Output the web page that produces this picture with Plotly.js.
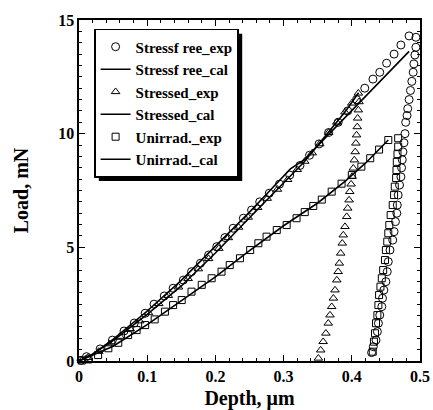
<!DOCTYPE html>
<html>
<head>
<meta charset="utf-8">
<script src="https://cdn.plot.ly/plotly-3.0.1.min.js"></script>
<style>html,body{margin:0;padding:0;background:#fff;}#chart{width:433px;height:410px;}</style>
</head>
<body>
<div id="chart"></div>
<script>
// ---- Data ----
const seriesNames = ["Stressf ree_exp", "Stressf ree_cal", "Stressed_exp", "Stressed_cal", "Unirrad._exp", "Unirrad._cal"];

const stressfreeExpX = [0.003,0.011,0.031,0.049,0.066,0.081,0.097,0.110,0.125,0.138,0.153,0.165,0.178,0.190,0.202,0.214,0.226,0.241,0.253,0.265,0.279,0.294,0.309,0.324,0.338,0.352,0.366,0.380,0.394,0.407,0.419,0.431,0.441,0.451,0.462,0.472,0.484,
  0.494,0.494,0.4925,0.491,0.490,0.488,0.486,0.484,0.482,0.481,0.479,0.478,0.4765,0.475,0.474,0.473,0.472,0.470,0.468,0.4667,0.466,0.464,0.462,0.460,0.456,0.4535,0.452,0.450,0.447,0.445,0.444,0.441,0.439,0.4375,0.4355,0.4315,0.429];
const stressfreeExpY = [0.03,0.19,0.53,0.92,1.32,1.67,2.10,2.50,2.86,3.20,3.56,3.93,4.30,4.66,5.03,5.43,5.84,6.28,6.64,7.00,7.38,7.78,8.18,8.60,9.05,9.55,10.05,10.50,11.00,11.50,12.00,12.40,12.70,13.10,13.50,13.90,14.30,
  14.24,13.80,13.46,13.07,12.70,12.30,11.90,11.50,11.10,10.80,10.50,10.00,9.60,9.20,8.85,8.50,8.10,7.74,7.30,6.86,6.50,6.13,5.69,5.32,4.88,4.37,3.93,3.49,3.12,2.76,2.39,2.02,1.66,1.29,0.92,0.63,0.37];

const stressfreeCalX = [0, 0.02, 0.05, 0.10, 0.15, 0.20, 0.25, 0.28, 0.30, 0.31, 0.33, 0.36, 0.40, 0.44, 0.484];
const stressfreeCalY = [0, 0.30, 0.95, 2.20, 3.55, 5.05, 6.55, 7.50, 8.15, 8.45, 8.85, 9.78, 11.02, 12.26, 13.62];

const stressedExpX = [0.004,0.0127,0.029,0.045,0.060,0.075,0.089,0.102,0.117,0.131,0.146,0.160,0.175,0.190,0.205,0.219,0.234,0.248,0.262,0.276,0.291,0.306,0.320,0.331,0.342,0.353,0.366,0.378,0.390,0.400,0.4096,
  0.4106,0.4096,0.4086,0.408,0.407,0.406,0.405,0.4037,0.4022,0.4005,0.399,0.397,0.396,0.394,0.3925,0.390,0.3875,0.386,0.3837,0.3817,0.380,0.378,0.3754,0.373,0.3705,0.368,0.3655,0.362,0.358,0.3544,0.351];
const stressedExpY = [0.03,0.15,0.42,0.75,1.08,1.42,1.76,2.12,2.52,2.88,3.25,3.62,4.05,4.50,4.95,5.42,5.88,6.32,6.75,7.15,7.55,7.98,8.42,8.78,9.15,9.55,10.05,10.50,10.95,11.34,11.78,
  11.40,11.04,10.68,10.30,9.94,9.58,9.20,8.84,8.48,8.12,7.78,7.45,7.08,6.72,6.35,5.91,5.54,5.18,4.74,4.30,3.93,3.56,3.12,2.76,2.39,2.02,1.66,1.22,0.85,0.48,0.12];

const stressedCalX = [0, 0.02, 0.05, 0.10, 0.15, 0.20, 0.25, 0.30, 0.33, 0.36, 0.39, 0.41];
const stressedCalY = [0, 0.30, 0.90, 2.05, 3.30, 4.75, 6.30, 7.85, 8.75, 9.85, 10.95, 11.80];

const unirradExpX = [0.004,0.0137,0.028,0.043,0.0576,0.072,0.0845,0.097,0.111,0.126,0.138,0.1506,0.165,0.180,0.1945,0.209,0.221,0.236,0.251,0.263,0.275,0.290,0.3045,0.319,0.331,0.3435,0.356,0.3705,0.385,0.400,0.414,0.427,0.440,0.4535,
  0.468,0.468,0.467,0.466,0.4655,0.465,0.463,0.462,0.460,0.457,0.455,0.4535,0.452,0.450,0.4487,0.446,0.444,0.442,0.440,0.439,0.4375,0.4355,0.434,0.4325,0.4307];
const unirradExpY = [0.02,0.07,0.26,0.56,0.80,1.14,1.36,1.58,1.83,2.17,2.46,2.68,3.05,3.35,3.64,3.93,4.22,4.52,4.88,5.18,5.47,5.76,5.98,6.28,6.55,6.82,7.10,7.45,7.80,8.18,8.55,8.92,9.30,9.72,
  9.80,9.43,9.10,8.76,8.40,8.05,7.67,7.30,6.86,6.42,5.98,5.62,5.25,4.88,4.44,4.00,3.64,3.27,2.90,2.46,2.02,1.66,1.22,0.85,0.41];

const unirradCalX = [0, 0.05, 0.10, 0.15, 0.20, 0.25, 0.30, 0.35, 0.39, 0.42, 0.4535];
const unirradCalY = [0, 0.65, 1.60, 2.65, 3.70, 4.85, 5.95, 6.95, 7.90, 8.70, 9.72];

const xTickVals = [0, 0.1, 0.2, 0.3, 0.4, 0.5];
const xTickText = ["0", "0.1", "0.2", "0.3", "0.4", "0.5"];
const yTickVals = [0, 5, 10, 15];
const yTickText = ["0", "5", "10", "15"];

// ---- Styling ----
const FONT = "Liberation Serif, Times New Roman, serif";
const mk = (sym, size) => ({symbol: sym, size: size, color: "#000", line: {color: "#000", width: 1}});
const ln = {color: "#000", width: 1.6};

const traces = [
  {x: stressfreeExpX, y: stressfreeExpY, name: seriesNames[0], mode: "markers", marker: mk("circle-open", 8), cliponaxis: false},
  {x: stressfreeCalX, y: stressfreeCalY, name: seriesNames[1], mode: "lines", line: ln},
  {x: stressedExpX, y: stressedExpY, name: seriesNames[2], mode: "markers", marker: mk("triangle-up-open", 7.5), cliponaxis: false},
  {x: stressedCalX, y: stressedCalY, name: seriesNames[3], mode: "lines", line: ln},
  {x: unirradExpX, y: unirradExpY, name: seriesNames[4], mode: "markers", marker: mk("square-open", 7), cliponaxis: false},
  {x: unirradCalX, y: unirradCalY, name: seriesNames[5], mode: "lines", line: ln}
];

const axisCommon = {
  showline: true, linecolor: "#000", linewidth: 1.6, mirror: "ticks",
  ticks: "inside", ticklen: 6, tickwidth: 1.2, tickcolor: "#000",
  showgrid: false, zeroline: false,
  tickfont: {family: FONT, size: 16, color: "#000", weight: "bold"},
  tickmode: "array"
};

const legendBox = {x0: 0.044, y1: 0.974};

const layout = {
  width: 433, height: 410,
  margin: {l: 79, r: 13, t: 20, b: 49},
  paper_bgcolor: "#fff", plot_bgcolor: "#fff",
  showlegend: true,
  font: {family: FONT, color: "#000"},
  xaxis: Object.assign({}, axisCommon, {
    range: [0, 0.5], tickvals: xTickVals, ticktext: xTickText,
    minor: {dtick: 0.02, ticks: "inside", ticklen: 3, tickwidth: 1, tickcolor: "#000", showgrid: false},
    title: {text: "Depth, μm", font: {family: FONT, size: 20, color: "#000", weight: "bold"}, standoff: 8}
  }),
  yaxis: Object.assign({}, axisCommon, {
    range: [0, 15], tickvals: yTickVals, ticktext: yTickText,
    minor: {dtick: 0.5, ticks: "inside", ticklen: 3, tickwidth: 1, tickcolor: "#000", showgrid: false},
    title: {text: "Load, mN", font: {family: FONT, size: 20, color: "#000", weight: "bold"}, standoff: 24}
  }),
  legend: {
    x: legendBox.x0, y: legendBox.y1, xanchor: "left", yanchor: "top",
    bgcolor: "#fff", bordercolor: "#000", borderwidth: 1.6,
    font: {family: FONT, size: 15, color: "#000", weight: "bold"},
    itemwidth: 30, tracegroupgap: 0
  }
};

function addShadow(gd) {
  const bg = gd.querySelector(".legend .bg");
  if (!bg) return;
  const r = bg.getBoundingClientRect();
  const g = gd.getBoundingClientRect();
  const s = gd._fullLayout._size;
  const off = 4;
  const px0 = r.left - g.left + off, px1 = r.right - g.left + off;
  const py0 = r.top - g.top + off, py1 = r.bottom - g.top + off;
  const shape = {
    type: "rect", xref: "paper", yref: "paper", layer: "above",
    x0: (px0 - s.l) / s.w, x1: (px1 - s.l) / s.w,
    y0: 1 - (py1 - s.t) / s.h, y1: 1 - (py0 - s.t) / s.h,
    fillcolor: "#000", line: {width: 0}
  };
  Plotly.relayout(gd, {shapes: [shape]});
}

const gd = document.getElementById("chart");
Plotly.newPlot(gd, traces, layout, {displayModeBar: false, staticPlot: true});
addShadow(gd);
</script>
</body>
</html>
